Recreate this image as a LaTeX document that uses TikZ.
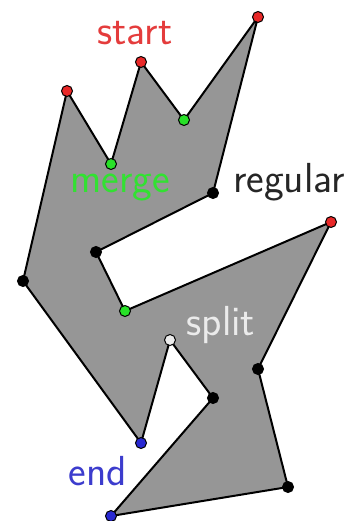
\documentclass[tikz,border=0pt]{standalone}
\usepackage{fontspec}
\begin{document}
\begin{tikzpicture}[x=1pt,y=-1pt,
  lbl/.style={anchor=base,inner sep=0pt,font=\fontsize{42}{50}\selectfont\sffamily},
  vtx/.style={circle,draw=black,line width=1pt,inner sep=0pt,minimum size=11pt},
  poly/.style={draw=black,line width=2pt,fill=polygray,line join=round}]
\definecolor{polygray}{RGB}{150,150,150}
\definecolor{vred}{RGB}{232,40,40}
\definecolor{vgreen}{RGB}{40,225,40}
\definecolor{vblue}{RGB}{40,40,210}
\definecolor{vwhite}{RGB}{235,235,235}
\definecolor{tred}{RGB}{228,60,60}
\definecolor{tgreen}{RGB}{50,225,50}
\definecolor{tblue}{RGB}{60,60,205}
\useasboundingbox (0,0) rectangle (363,521);
\coordinate (p1) at (258,17);
\coordinate (p2) at (213,193);
\coordinate (p3) at (96,252);
\coordinate (p4) at (125,311);
\coordinate (p5) at (331,222);
\coordinate (p6) at (258,369);
\coordinate (p7) at (288,487);
\coordinate (p8) at (111,516);
\coordinate (p9) at (213,398);
\coordinate (p10) at (170,340);
\coordinate (p11) at (141,443);
\coordinate (p12) at (23,281);
\coordinate (p13) at (67,91);
\coordinate (p14) at (111,164);
\coordinate (p15) at (141,62);
\coordinate (p16) at (184,120);
\draw[poly] (p1) -- (p2) -- (p3) -- (p4) -- (p5) -- (p6) -- (p7) -- (p8) -- (p9) -- (p10) -- (p11) -- (p12) -- (p13) -- (p14) -- (p15) -- (p16) -- cycle;
\node[vtx,fill=vred] (v1) at (p1) {};
\node[vtx,fill=black] (v2) at (p2) {};
\node[vtx,fill=black] (v3) at (p3) {};
\node[vtx,fill=vgreen] (v4) at (p4) {};
\node[vtx,fill=vred] (v5) at (p5) {};
\node[vtx,fill=black] (v6) at (p6) {};
\node[vtx,fill=black] (v7) at (p7) {};
\node[vtx,fill=vblue] (v8) at (p8) {};
\node[vtx,fill=black] (v9) at (p9) {};
\node[vtx,fill=vwhite] (v10) at (p10) {};
\node[vtx,fill=vblue] (v11) at (p11) {};
\node[vtx,fill=black] (v12) at (p12) {};
\node[vtx,fill=vred] (v13) at (p13) {};
\node[vtx,fill=vgreen] (v14) at (p14) {};
\node[vtx,fill=vred] (v15) at (p15) {};
\node[vtx,fill=vgreen] (v16) at (p16) {};
\node[lbl,text=tred] (tstart) at (135,45) {start};
\node[lbl,text=tgreen] (tmerge) at (120,193) {merge};
\node[lbl,text=black!85] (tregular) at (289,193) {regular};
\node[lbl,text=vwhite] (tsplit) at (221,335) {split};
\node[lbl,text=tblue] (tend) at (98,485) {end};
\end{tikzpicture}
\end{document}
